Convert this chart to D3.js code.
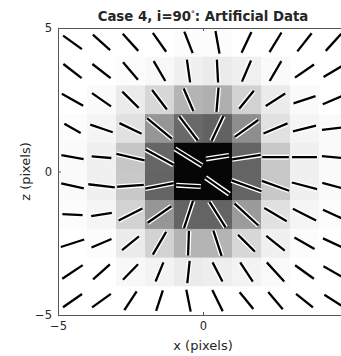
<!DOCTYPE html>
<html>
<head>
<meta charset="utf-8">
<script src="https://cdn.jsdelivr.net/npm/d3@7"></script>
<style>
  body { margin: 0; background: #fff; }
  text { font-family: "DejaVu Sans", sans-serif; fill: #262626; }
</style>
</head>
<body>
<div id="root"></div>
<script>
// cell centres (pixels), 10 x 10 grid
const xCenters = [-4.5, -3.5, -2.5, -1.5, -0.5, 0.5, 1.5, 2.5, 3.5, 4.5];
const zCenters = [4.5, 3.5, 2.5, 1.5, 0.5, -0.5, -1.5, -2.5, -3.5, -4.5];

// intensity image, grey level 0..255, rows top -> bottom
const intensity = [
  [255, 255, 255, 255, 252, 252, 255, 255, 255, 255],
  [255, 255, 252, 248, 240, 235, 240, 250, 255, 255],
  [255, 250, 235, 215, 180, 175, 210, 235, 250, 255],
  [252, 245, 225, 150, 105, 98, 142, 225, 245, 250],
  [250, 240, 198, 102, 6, 6, 100, 200, 240, 250],
  [250, 240, 200, 100, 6, 6, 100, 200, 240, 250],
  [252, 245, 210, 150, 100, 100, 155, 225, 245, 252],
  [255, 252, 235, 210, 180, 180, 215, 240, 252, 255],
  [255, 255, 248, 243, 235, 238, 243, 250, 255, 255],
  [255, 255, 255, 255, 255, 255, 255, 255, 255, 255]
];

// polarization angle (degrees, anticlockwise from +x)
const angles = [
  [-36, -42, -48, -55, -69, -80, 65, 59, 52, 48],
  [-38, -38, -50, -60, -82, -87, 67, 60, 35, 31],
  [-30, -35, -45, -53, -67, 85, 51, 33, 18, 23],
  [-30, -19, -26, -40, -53, 65, 36, 23, 14, 7],
  [-10, -5, -13, -29, -32, 9, 9, 0, 0, -5],
  [-13, -7, 4, 11, -3, -35, -20, -20, -15, -15],
  [-3, 9, 27, 35, 72, -58, -43, -31, -27, -25],
  [18, 23, 39, 60, 88, -72, -45, -39, -30, -25],
  [34, 42, 46, 68, 84, -63, -57, -48, -36, -30],
  [35, 36, 57, 72, -79, -64, -51, -50, -39, -33]
];

// vector length (pixels)
const lengths = [
  [0.8, 0.8, 0.8, 0.8, 0.8, 0.8, 0.8, 0.8, 0.8, 0.8],
  [0.8, 0.8, 0.8, 0.8, 0.8, 0.8, 0.8, 0.8, 0.8, 0.8],
  [0.85, 0.8, 0.8, 0.85, 0.85, 0.85, 0.8, 0.8, 0.8, 0.8],
  [0.65, 0.82, 0.85, 1.1, 1.05, 0.95, 1.0, 0.9, 0.82, 0.8],
  [0.78, 0.68, 1.0, 1.1, 1.1, 0.8, 1.0, 0.92, 0.86, 0.8],
  [0.8, 0.92, 0.92, 1.0, 0.85, 1.0, 1.1, 1.0, 0.9, 0.8],
  [0.7, 0.72, 0.92, 1.0, 1.0, 1.05, 1.12, 0.9, 0.9, 0.8],
  [0.85, 0.75, 0.75, 0.92, 0.85, 0.92, 0.82, 0.82, 0.8, 0.8],
  [0.85, 0.78, 0.75, 0.72, 0.78, 0.75, 0.8, 0.9, 0.8, 0.8],
  [0.8, 0.8, 0.78, 0.75, 0.78, 0.82, 0.75, 0.78, 0.75, 0.75]
];

const tickValues = [-5, 0, 5];
const titleMain = "Case 4, i=90";
const titleRest = ": Artificial Data";
const xLabel = "x (pixels)";
const zLabel = "z (pixels)";

const W = 341, H = 356;
const mLeft = 58, mRight = 348, mTop = 28, mBottom = 315;

const svg = d3.select('#root').append('svg')
  .attr('width', W)
  .attr('height', H);

const x = d3.scaleLinear().domain([-5, 5]).range([mLeft, mRight]);
const z = d3.scaleLinear().domain([-5, 5]).range([mBottom, mTop]);

svg.append('defs').append('clipPath').attr('id', 'plotclip')
  .append('rect')
  .attr('x', mLeft).attr('y', mTop)
  .attr('width', mRight - mLeft).attr('height', mBottom - mTop);

const plot = svg.append('g').attr('clip-path', 'url(#plotclip)');

// flatten grid
let cells = [];
zCenters.forEach(function (zc, i) {
  xCenters.forEach(function (xc, j) {
    cells.push({ xc: xc, zc: zc, v: intensity[i][j], a: angles[i][j], L: lengths[i][j] });
  });
});

plot.selectAll('rect.cell')
  .data(cells)
  .enter().append('rect')
  .attr('class', 'cell')
  .attr('x', d => x(d.xc - 0.5))
  .attr('y', d => z(d.zc + 0.5))
  .attr('width', d => x(d.xc + 0.5) - x(d.xc - 0.5) + 0.5)
  .attr('height', d => z(d.zc - 0.5) - z(d.zc + 0.5) + 0.5)
  .attr('fill', d => d3.rgb(d.v, d.v, d.v));

function ends(d) {
  const r = d.a * Math.PI / 180, h = d.L / 2;
  return [x(d.xc - h * Math.cos(r)), z(d.zc - h * Math.sin(r)),
          x(d.xc + h * Math.cos(r)), z(d.zc + h * Math.sin(r))];
}

// white halo round each vector (only shows on the dark centre)
plot.selectAll('line.halo')
  .data(cells)
  .enter().append('line')
  .attr('class', 'halo')
  .attr('x1', d => ends(d)[0])
  .attr('y1', d => ends(d)[1])
  .attr('x2', d => ends(d)[2])
  .attr('y2', d => ends(d)[3])
  .attr('stroke', '#fff')
  .attr('stroke-width', 5);

plot.selectAll('line.vec')
  .data(cells)
  .enter().append('line')
  .attr('class', 'vec')
  .attr('x1', d => ends(d)[0])
  .attr('y1', d => ends(d)[1])
  .attr('x2', d => ends(d)[2])
  .attr('y2', d => ends(d)[3])
  .attr('stroke', '#000')
  .attr('stroke-width', 2.3);

const fmt = d => d < 0 ? '\u2212' + Math.abs(d) : d;

// axes (ticks inside, like the original); the x label at 5 falls off the page
const xAxis = svg.append('g')
  .attr('transform', 'translate(0,' + mBottom + ')')
  .call(d3.axisBottom(x).tickValues(tickValues).tickSizeInner(-3).tickSizeOuter(0).tickPadding(7)
    .tickFormat(d => d === 5 ? '' : fmt(d)));
const xTop = svg.append('g')
  .attr('transform', 'translate(0,' + mTop + ')')
  .call(d3.axisTop(x).tickValues(tickValues).tickSizeInner(-3).tickSizeOuter(0).tickFormat(''));
const zAxis = svg.append('g')
  .attr('transform', 'translate(' + mLeft + ',0)')
  .call(d3.axisLeft(z).tickValues(tickValues).tickSizeInner(-3).tickSizeOuter(0).tickPadding(6)
    .tickFormat(fmt));

[xAxis, xTop, zAxis].forEach(function (g) {
  g.select('.domain').attr('stroke', '#555').attr('stroke-width', 1);
  g.selectAll('.tick line').attr('stroke', '#555');
  g.selectAll('.tick text').attr('font-size', 11.5).attr('fill', '#262626')
    .attr('font-family', '"DejaVu Sans", sans-serif');
});

// title
const title = svg.append('text')
  .attr('x', (mLeft + mRight) / 2)
  .attr('y', 21)
  .attr('text-anchor', 'middle')
  .attr('font-size', 13.3)
  .attr('font-weight', 'bold');
title.append('tspan').text(titleMain);
title.append('tspan').attr('dy', -5).attr('font-size', 7.5).text('\u00b0');
title.append('tspan').attr('dy', 5).text(titleRest);

svg.append('text')
  .attr('x', (mLeft + mRight) / 2)
  .attr('y', 350)
  .attr('text-anchor', 'middle')
  .attr('font-size', 13)
  .text(xLabel);

svg.append('text')
  .attr('transform', 'translate(30,' + ((mTop + mBottom) / 2) + ') rotate(-90)')
  .attr('text-anchor', 'middle')
  .attr('font-size', 13)
  .text(zLabel);
</script>
</body>
</html>
